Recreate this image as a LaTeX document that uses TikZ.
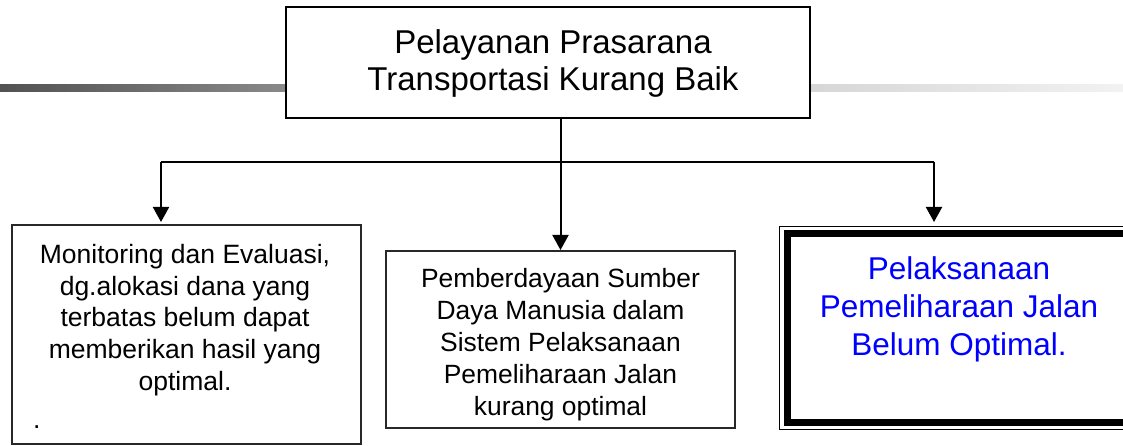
\documentclass[tikz,border=0pt]{standalone}
\usepackage{fontspec}
\setmainfont{Liberation Sans}
\usetikzlibrary{arrows.meta}
\definecolor{gA}{RGB}{82,82,82}
\definecolor{gB}{RGB}{138,138,138}
\definecolor{gC}{RGB}{214,214,214}
\definecolor{gD}{RGB}{242,242,242}
\definecolor{txtblue}{RGB}{0,0,255}
\definecolor{edgegray}{RGB}{40,40,40}
\begin{document}
\begin{tikzpicture}[x=1pt,y=-1pt,
  box/.style={draw, rectangle, inner sep=0pt, outer sep=0pt, fill=white},
  conn/.style={line width=2pt},
  arr/.style={conn, -{Triangle[width=16pt,length=15pt]}},
  lbl/.style={align=center, inner sep=0pt}]
\useasboundingbox (0,0) rectangle (1123,446);
\clip (0,0) rectangle (1123,446);
% gradient rule behind the top box
\shade[left color=gA,right color=gB] (0,85) rectangle (290,92);
\shade[left color=gC,right color=gD] (806,85) rectangle (1123,92);
% top box
\node[box, line width=2pt, minimum width=524pt, minimum height=111pt] (tb) at (548,62.5) {};
\node[lbl, font=\fontsize{33}{37.4}\selectfont] (tt) at (553,63.5) {Pelayanan Prasarana\\Transportasi Kurang Baik};
% lower boxes
\node[box, draw=edgegray, line width=1.3pt, minimum width=349pt, minimum height=219pt] (lb) at (186.5,334.5) {};
\node[lbl, font=\fontsize{26.5}{31.7}\selectfont] (lt) at (185,320) {Monitoring dan Evaluasi,\\dg.alokasi dana yang\\terbatas belum dapat\\memberikan hasil yang\\optimal.};
\node[anchor=base west, inner sep=0pt, font=\fontsize{26.5}{31.7}\selectfont] (dot) at (33,428) {.};
\node[box, draw=edgegray, line width=1.4pt, minimum width=349pt, minimum height=177pt] (mb) at (560.5,339.5) {};
\node[lbl, font=\fontsize{26.4}{32}\selectfont] (mt) at (560.5,344.4) {Pemberdayaan Sumber\\Daya Manusia dalam\\Sistem Pelaksanaan\\Pemeliharaan Jalan\\kurang optimal};
% right box: runs past the right edge of the picture, so only three sides show
\node[box, draw=none, minimum width=400pt, minimum height=188pt] (rk) at (987,328) {};
\draw[line width=7pt] (rk.north east) -- (rk.north west) -- (rk.south west) -- (rk.south east);
\draw[line width=1.3pt] ([shift={(0,-7.5)}]rk.north east) -- ([shift={(-7.5,-7.5)}]rk.north west)
  -- ([shift={(-7.5,7.5)}]rk.south west) -- ([shift={(0,7.5)}]rk.south east);
\node[lbl, text=txtblue, font=\fontsize{31.5}{38}\selectfont] (rt) at (959,309.3) {Pelaksanaan\\Pemeliharaan Jalan\\Belum Optimal.};
% connectors
\coordinate (jl) at (161,162);
\coordinate (jr) at (934,162);
\draw[conn] (jl) -- (jr);
\draw[arr, shorten >=3pt] (jl) -- (jl |- lb.north);
\draw[arr, shorten >=12pt] (jr) -- (jr |- rk.north);
\draw[arr, shorten >=1pt] (tb.south -| mb.north) -- (mb.north);
\end{tikzpicture}
\end{document}
